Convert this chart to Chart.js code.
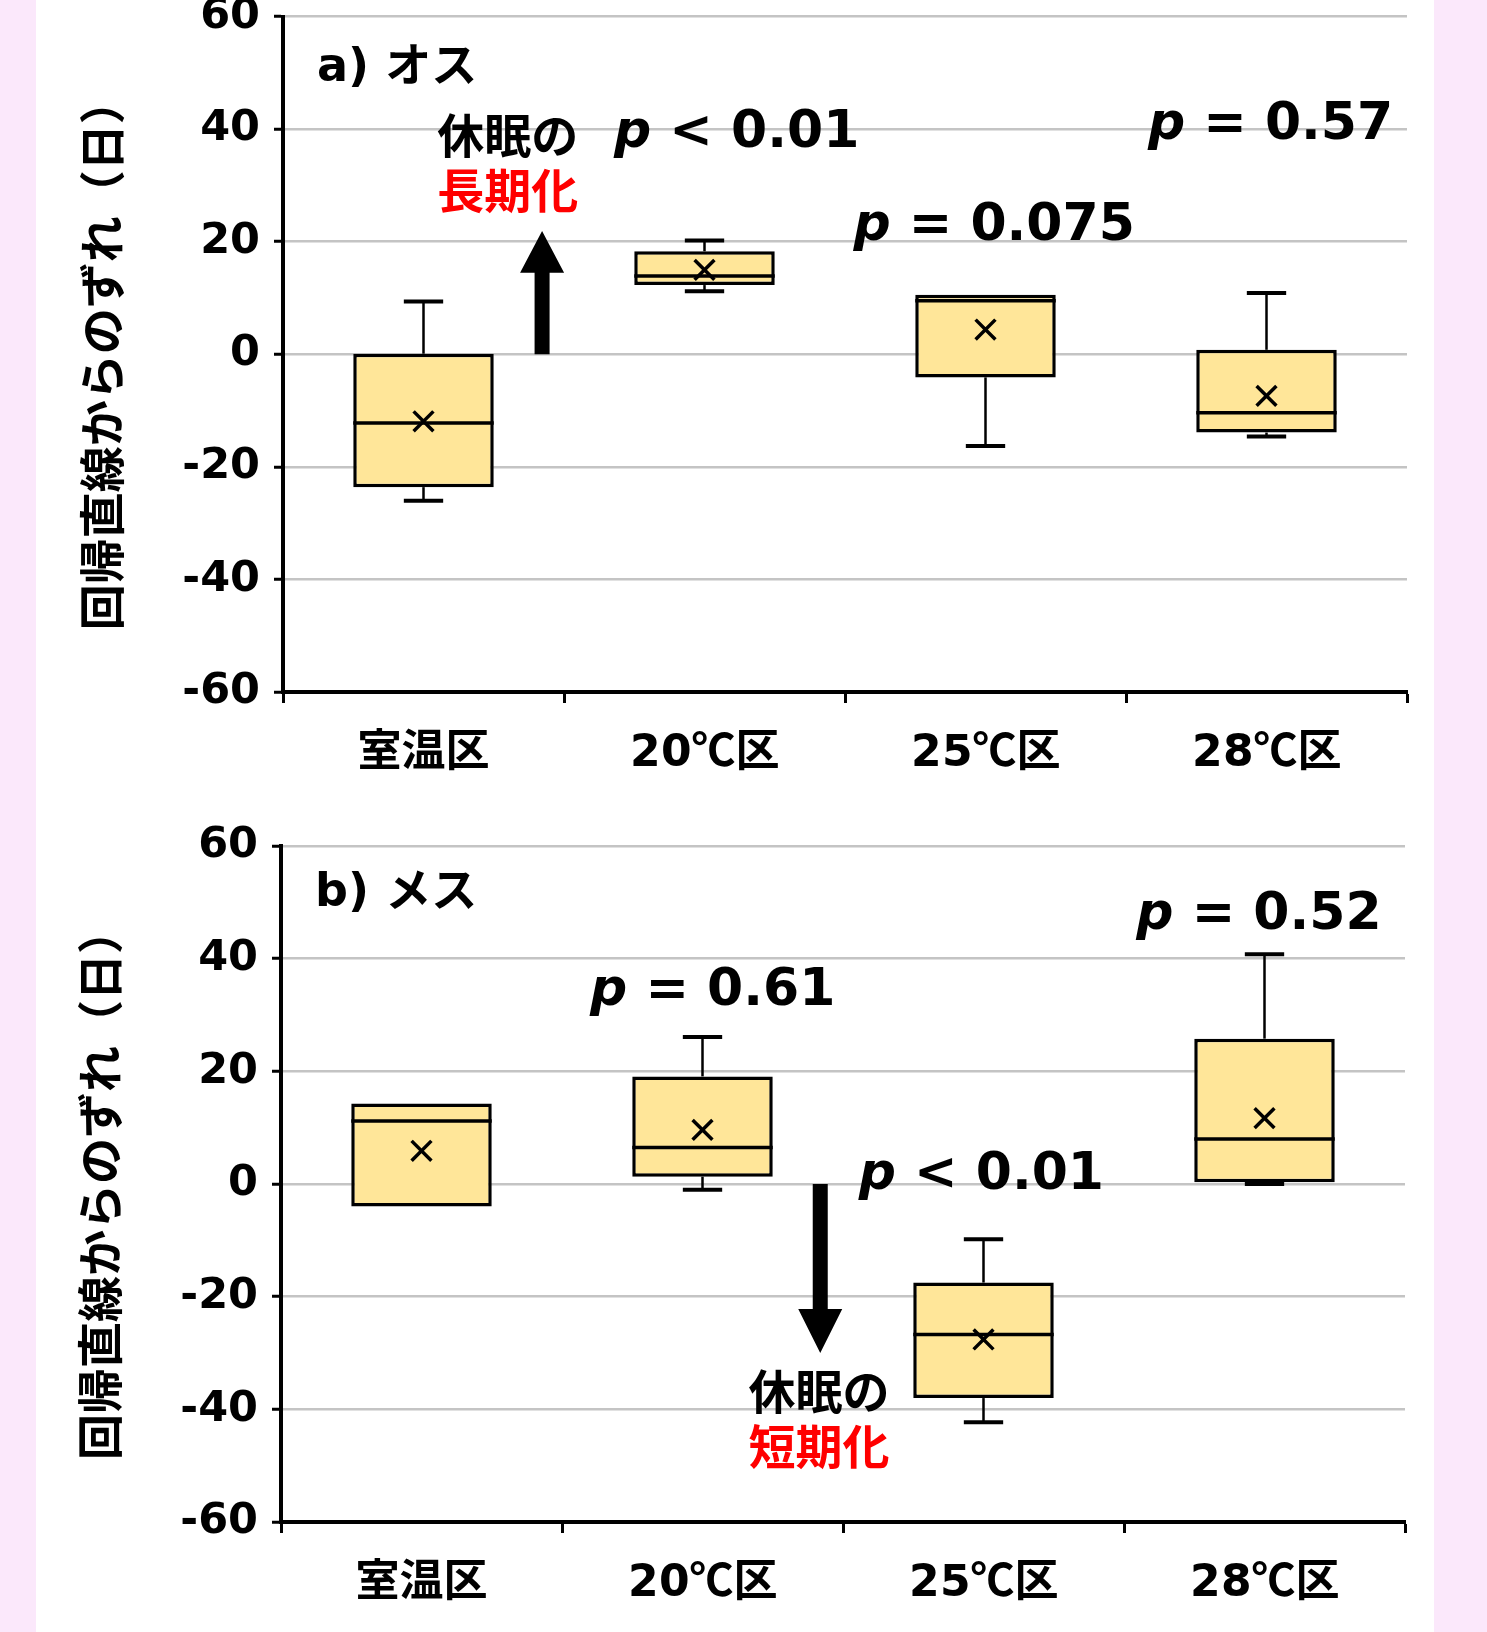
<!DOCTYPE html>
<html lang="ja">
<head>
<meta charset="utf-8">
<script src="https://cdn.jsdelivr.net/npm/chart.js@4.4.1/dist/chart.umd.min.js"></script>
<style>
  @font-face {
    font-family: 'MixLatin';
    font-weight: bold;
    src: local('DejaVu Sans Bold'), local('DejaVuSans-Bold');
    unicode-range: U+0000-00FF;
  }
  html, body { margin: 0; padding: 0; }
  body { width: 1487px; height: 1632px; background: #fbe8fb; position: relative; overflow: hidden; }
  #sheet { position: absolute; left: 36px; top: 0; width: 1398px; height: 1632px; background: #fff; }
  canvas { position: absolute; left: 0; }
  #maleChart { top: -30px; }
  #femaleChart { top: 800px; }
</style>
</head>
<body>
<div id="sheet"></div>
<canvas id="maleChart" width="1487" height="830"></canvas>
<canvas id="femaleChart" width="1487" height="830"></canvas>
<script>
const categories = ['室温区', '20℃区', '25℃区', '28℃区'];

// a) オス
const maleMin    = [-26.0, 11.2, -16.3, -14.6];
const maleQ1     = [-23.6, 12.3,  -4.1, -13.9];
const maleMedian = [-12.2, 13.9,   9.5, -10.4];
const maleQ3     = [  0.1, 18.3,  10.6,   0.8];
const maleMax    = [  9.4, 20.2,  10.6,  10.9];
const maleMean   = [-11.9, 15.0,   4.4,  -7.4];

// b) メス
const femaleMin    = [-4.0, -1.0, -42.3,  0.0];
const femaleQ1     = [-4.0,  1.3, -38.0,  0.3];
const femaleMedian = [11.2,  6.5, -26.7,  8.0];
const femaleQ3     = [14.3, 19.1, -17.5, 25.8];
const femaleMax    = [14.3, 26.1,  -9.8, 40.8];
const femaleMean   = [ 5.9,  9.6, -27.6, 11.7];

const JP = '"Noto Sans CJK JP", sans-serif';
const MIX = 'MixLatin, "Noto Sans CJK JP", sans-serif';
const DV = '"DejaVu Sans", sans-serif';

// whiskers, medians and text notes drawn around the bar/line datasets
const boxParts = {
    id: 'boxParts',
    beforeDatasetsDraw(chart, args, opts) {
        const ctx = chart.ctx, y = chart.scales.y;
        const meta = chart.getDatasetMeta(0);
        ctx.save();
        ctx.strokeStyle = '#000';
        meta.data.forEach((bar, i) => {
            const cap = bar.width * 0.28;
            const ends = [[opts.q3[i], opts.max[i]], [opts.q1[i], opts.min[i]]];
            ends.forEach(([from, to]) => {
                if (from === to) return;
                const y0 = y.getPixelForValue(from), y1 = y.getPixelForValue(to);
                ctx.lineWidth = 2.5;
                ctx.beginPath(); ctx.moveTo(bar.x, y0); ctx.lineTo(bar.x, y1); ctx.stroke();
                ctx.lineWidth = 4;
                ctx.beginPath(); ctx.moveTo(bar.x - cap / 2, y1); ctx.lineTo(bar.x + cap / 2, y1); ctx.stroke();
            });
        });
        ctx.restore();
    },
    afterDatasetDraw(chart, args, opts) {
        if (args.index !== 0) return;
        const ctx = chart.ctx, y = chart.scales.y;
        ctx.save();
        ctx.strokeStyle = '#000';
        ctx.lineWidth = 3.5;
        args.meta.data.forEach((bar, i) => {
            const ym = y.getPixelForValue(opts.median[i]);
            ctx.beginPath();
            ctx.moveTo(bar.x - bar.width / 2, ym);
            ctx.lineTo(bar.x + bar.width / 2, ym);
            ctx.stroke();
        });
        ctx.restore();
    },
    afterDraw(chart, args, opts) {
        const ctx = chart.ctx, x = chart.scales.x, y = chart.scales.y;
        ctx.save();
        // arrow
        const a = opts.arrow;
        const ax = x.getPixelForValue(a.x);
        const yFrom = y.getPixelForValue(a.from), yTip = y.getPixelForValue(a.to);
        const yHead = y.getPixelForValue(a.head);
        ctx.fillStyle = '#000';
        ctx.beginPath();
        ctx.moveTo(ax - 7.5, yFrom);
        ctx.lineTo(ax - 7.5, yHead);
        ctx.lineTo(ax - 22, yHead);
        ctx.lineTo(ax, yTip);
        ctx.lineTo(ax + 22, yHead);
        ctx.lineTo(ax + 7.5, yHead);
        ctx.lineTo(ax + 7.5, yFrom);
        ctx.closePath();
        ctx.fill();
        // texts
        ctx.textBaseline = 'middle';
        opts.notes.forEach(n => {
            const px = x.getPixelForValue(n.x), py = y.getPixelForValue(n.y);
            ctx.fillStyle = n.color || '#000';
            if (n.p) {
                ctx.textAlign = 'left';
                ctx.font = 'italic bold 52px ' + DV;
                ctx.fillText('p', px, py);
                const w = ctx.measureText('p').width;
                ctx.font = 'bold 52px ' + DV;
                ctx.fillText(n.p, px + w, py);
            } else {
                ctx.textAlign = n.align || 'center';
                ctx.font = 'bold ' + (n.size || 47) + 'px ' + MIX;
                ctx.fillText(n.text, px, py);
            }
        });
        ctx.restore();
    }
};

function makeChart(id, q1, q3, median, min, max, mean, pad, notes, arrow) {
    return new Chart(document.getElementById(id), {
        type: 'bar',
        data: {
            labels: categories,
            datasets: [{
                type: 'bar',
                data: q1.map((v, i) => [v, q3[i]]),
                backgroundColor: '#ffe699',
                borderColor: '#000',
                borderWidth: 3.5,
                borderSkipped: false,
                barPercentage: 1,
                categoryPercentage: 0.5
            }, {
                type: 'line',
                data: mean,
                order: -1,
                showLine: false,
                pointStyle: 'crossRot',
                pointRadius: 14,
                pointBorderWidth: 3.5,
                pointBorderColor: '#000',
                borderColor: '#000'
            }]
        },
        options: {
            responsive: false,
            animation: false,
            layout: { padding: pad },
            plugins: {
                legend: { display: false },
                tooltip: { enabled: false },
                boxParts: { q1, q3, median, min, max, notes, arrow }
            },
            scales: {
                x: {
                    offset: true,
                    grid: { offset: true, drawOnChartArea: false, tickLength: 11, tickColor: '#000', tickWidth: 3 },
                    border: { color: '#000', width: 4 },
                    ticks: { color: '#000', padding: 25, font: { family: MIX, size: 44, weight: 'bold' } },
                    afterFit: s => { s.height = 108; }
                },
                y: {
                    min: -60,
                    max: 60,
                    ticks: { stepSize: 20, color: '#000', padding: 14, font: { family: DV, size: 43, weight: 'bold' } },
                    grid: { color: '#c4c4c4', lineWidth: 2.5, tickLength: 9, tickColor: '#000', tickWidth: 3 },
                    border: { color: '#000', width: 4 },
                    title: {
                        display: true,
                        text: '回帰直線からのずれ（日）',
                        color: '#000',
                        padding: { top: 19, bottom: 0 },
                        font: { family: JP, size: 46, weight: 'bold', lineHeight: 1 }
                    },
                    afterFit: s => { s.width = 223; }
                }
            }
        },
        plugins: [boxParts]
    });
}

function drawAll() {
    makeChart('maleChart', maleQ1, maleQ3, maleMedian, maleMin, maleMax, maleMean,
        { top: 46.6, left: 60, right: 80, bottom: 0 },
        [
            { text: 'a) オス', x: -0.378, y: 50.7, align: 'left', size: 46 },
            { p: ' < 0.01', x: 0.678, y: 39.3 },
            { p: ' = 0.075', x: 1.53, y: 22.7 },
            { p: ' = 0.57', x: 2.578, y: 40.6 },
            { text: '休眠の', x: 0.3, y: 38 },
            { text: '長期化', x: 0.3, y: 28.2, color: '#ff0000' }
        ],
        { x: 0.422, from: 0, head: 14.5, to: 21.9 });

    makeChart('femaleChart', femaleQ1, femaleQ3, femaleMedian, femaleMin, femaleMax, femaleMean,
        { top: 46, left: 58, right: 82, bottom: 0 },
        [
            { text: 'b) メス', x: -0.378, y: 51.4, align: 'left', size: 46 },
            { p: ' = 0.61', x: 0.6, y: 34.1 },
            { p: ' = 0.52', x: 2.544, y: 47.6 },
            { p: ' < 0.01', x: 1.556, y: 1.5 },
            { text: '休眠の', x: 1.415, y: -37.7 },
            { text: '短期化', x: 1.415, y: -47.5, color: '#ff0000' }
        ],
        { x: 1.419, from: 0, head: -22.2, to: -30 });
}

Promise.all([
    document.fonts.load('bold 44px MixLatin', '20'),
    document.fonts.load('bold 44px "Noto Sans CJK JP"', '区'),
    document.fonts.load('italic bold 52px "DejaVu Sans"', 'p')
]).catch(() => {}).then(drawAll);
</script>
</body>
</html>
